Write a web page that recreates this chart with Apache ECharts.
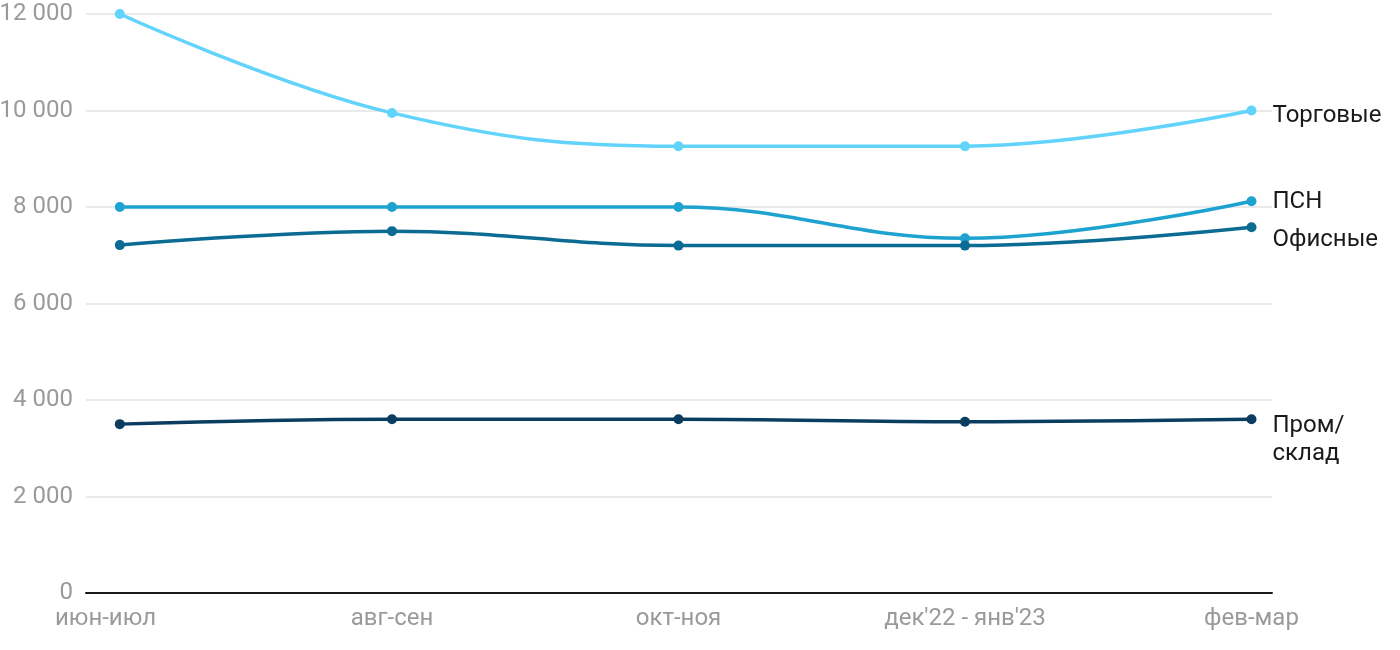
<!DOCTYPE html>
<html><head><meta charset="utf-8">
<script src="https://cdn.jsdelivr.net/npm/echarts@6/dist/echarts.min.js"></script>
<style>html,body{margin:0;padding:0;background:#fff}#c{width:1400px;height:650px}</style>
</head><body><div id="c"></div>
<script>
const categories = ["июн-июл", "авг-сен", "окт-ноя", "дек'22 - янв'23", "фев-мар"];
const xPos = [0.05, 1, 2, 3, 4];
const torgovye = [12000, 9950, 9260, 9260, 10000];
const psn = [8000, 8000, 8000, 7350, 8120];
const ofisnye = [7210, 7500, 7200, 7200, 7580];
const promsklad = [3500, 3600, 3600, 3550, 3600];
const yTicks = [0, 2000, 4000, 6000, 8000, 10000, 12000];

const font = 'Roboto';
function pts(arr){ return arr.map((v,i)=>[xPos[i],v]); }
function mk(name, arr, color, labelText, offset){
  const d = pts(arr).map((p,i)=> i===arr.length-1 ? {value:p, label:{show:true, position:'right', distance:16, offset:offset, formatter:labelText, color:'#1a1a1a', fontSize:24, fontFamily:font, lineHeight:28}} : {value:p});
  return {name, type:'line', data:d, smooth:0.4, symbol:'circle', symbolSize:10,
    lineStyle:{color, width:3.5}, itemStyle:{color}, label:{show:false}, z: 3};
}
const chart = echarts.init(document.getElementById('c'), null, {renderer:'canvas'});
chart.setOption({
  animation:false,
  grid:{left:86, right:128, top:14, bottom:57, containLabel:false, outerBoundsMode:'none'},
  xAxis:{type:'value', min:-0.068, max:4.0716,
    axisLine:{show:true, lineStyle:{color:'#1a1a1a', width:2}},
    axisTick:{show:false}, splitLine:{show:false},
    axisLabel:{customValues:[0,1,2,3,4],
      formatter:v=>categories[Math.round(v)],
      color:'#9a9a9a', fontSize:24, fontFamily:font, margin:14}
  },
  yAxis:{type:'value', min:0, max:12000, interval:2000,
    axisLine:{show:false}, axisTick:{show:false},
    splitLine:{lineStyle:{color:'#e3e3e3', width:1.5}},
    axisLabel:{formatter:v=>String(v).replace(/\B(?=(\d{3})+(?!\d))/g,' '), color:'#9a9a9a', fontSize:24, fontFamily:font, margin:13}
  },
  series:[
    mk('Торговые', torgovye, '#62d3fa', 'Торговые', [0,5]),
    mk('ПСН', psn, '#1ea3d1', 'ПСН', [0,1]),
    mk('Офисные', ofisnye, '#0b6b92', 'Офисные', [0,13]),
    mk('Пром/склад', promsklad, '#0b3d60', 'Пром/\nсклад', [0,21])
  ]
});
</script></body></html>
